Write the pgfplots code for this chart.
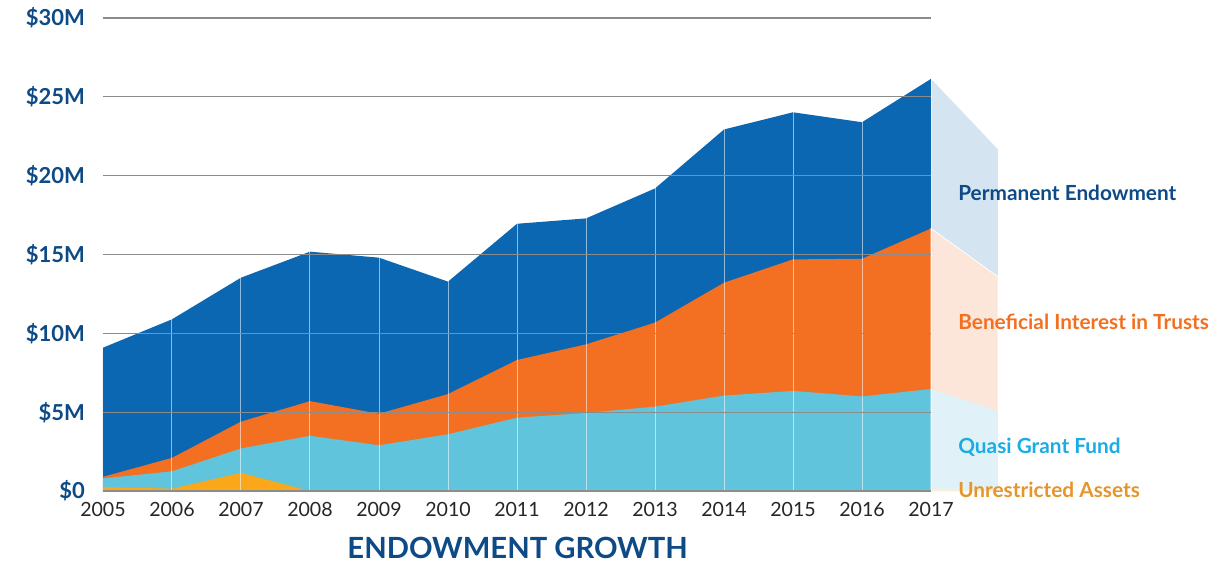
\documentclass[border=0pt]{standalone}
\usepackage{pgfplots}
\pgfplotsset{compat=1.18}
\usepackage{pgfplotstable}
\usepackage{fontspec}
\setmainfont{Lato}
\definecolor{permblue}{HTML}{0B67B1}
\definecolor{trustorange}{HTML}{F37022}
\definecolor{quasicyan}{HTML}{60C4DD}
\definecolor{unresyellow}{HTML}{FAA71A}
\definecolor{lightblue}{HTML}{D5E4F1}
\definecolor{lightorange}{HTML}{FCE5D9}
\definecolor{lightcyan}{HTML}{E0F2F8}
\definecolor{lightyellow}{HTML}{FDEFD5}
\definecolor{navy}{HTML}{0D4A86}
\definecolor{labelcyan}{HTML}{1AACE3}
\definecolor{labelgold}{HTML}{E5952B}
\definecolor{gridgray}{HTML}{8C8C8C}

% cumulative tops of each layer (in $M)
\pgfplotstableread{
x total trusts quasi unres
0  9.09  0.90 0.80 0.25
1  10.89 2.10 1.25 0.15
2  13.53 4.40 2.70 1.15
3  15.18 5.70 3.50 0.00
4  14.80 4.90 2.90 0.05
5  13.28 6.15 3.60 0.10
6  16.95 8.31 4.65 0.10
7  17.29 9.30 4.95 0.10
8  19.19 10.68 5.35 0.10
9  22.93 13.21 6.05 0.10
10 24.02 14.69 6.35 0.10
11 23.39 14.73 6.00 0.00
12 26.14 16.65 6.47 0.12
}\datatable

\begin{document}
\begin{tikzpicture}
\useasboundingbox (-51.5pt,-36.5pt) rectangle (557pt,245.5pt);
\begin{axis}[
  anchor=south west, at={(0pt,0pt)},
  scale only axis, width=414pt, height=236.5pt,
  xmin=0, xmax=12, ymin=0, ymax=30,
  clip=false,
  axis on top,
  axis line style={draw=none},
  major tick length=0pt,
  xtick={0,1,...,12},
  xticklabels={2005,2006,2007,2008,2009,2010,2011,2012,2013,2014,2015,2016,2017},
  ytick={0,5,...,30},
  yticklabels={\$0,\$5M,\$10M,\$15M,\$20M,\$25M,\$30M},
  xmajorgrids, ymajorgrids,
  major x grid style={white, opacity=0.55, line width=0.5pt},
  major y grid style={gridgray, line width=0.6pt},
  xticklabel style={font=\fontsize{9.8}{11}\selectfont, text=black!85, yshift=-2pt},
  yticklabel style={font=\bfseries\fontsize{11}{13}\selectfont, text=navy, xshift=-5.5pt},
]
% main layers (painted back to front)
\addplot[fill=permblue, draw=none] table[x=x, y=total] {\datatable} \closedcycle;
\addplot[fill=trustorange, draw=none] table[x=x, y=trusts] {\datatable} \closedcycle;
\addplot[fill=quasicyan, draw=none] table[x=x, y=quasi] {\datatable} \closedcycle;
\addplot[fill=unresyellow, draw=none] table[x=x, y=unres] {\datatable} \closedcycle;
% light extension
\addplot[fill=lightblue, draw=none] coordinates {(12,26.14) (12.97,21.67)} \closedcycle;
\addplot[fill=lightorange, draw=white, line width=0.4pt] coordinates {(12,16.65) (12.97,13.59)} \closedcycle;
\addplot[fill=lightcyan, draw=none] coordinates {(12,6.47) (12.97,5.09)} \closedcycle;
\addplot[fill=lightyellow, draw=none] coordinates {(12,0.14) (12.97,0.05)} \closedcycle;
% labels
\node[anchor=west, inner sep=0pt, text=navy, font=\bfseries\fontsize{10.4}{12}\selectfont] at (axis cs:12.39,18.9) {Permanent Endowment};
\node[anchor=west, inner sep=0pt, text=trustorange, font=\bfseries\fontsize{10.4}{12}\selectfont] at (axis cs:12.39,10.7) {Beneficial Interest in Trusts};
\node[anchor=west, inner sep=0pt, text=labelcyan, font=\bfseries\fontsize{10.4}{12}\selectfont] at (axis cs:12.39,2.8) {Quasi Grant Fund};
\node[anchor=west, inner sep=0pt, text=labelgold, font=\bfseries\fontsize{10.4}{12}\selectfont] at (axis cs:12.39,0.1) {Unrestricted Assets};
\node[text=navy, font=\fontsize{14.6}{16}\selectfont\bfseries] at (axis cs:6.01,-3.62) {ENDOWMENT GROWTH};
\end{axis}
\end{tikzpicture}
\end{document}
